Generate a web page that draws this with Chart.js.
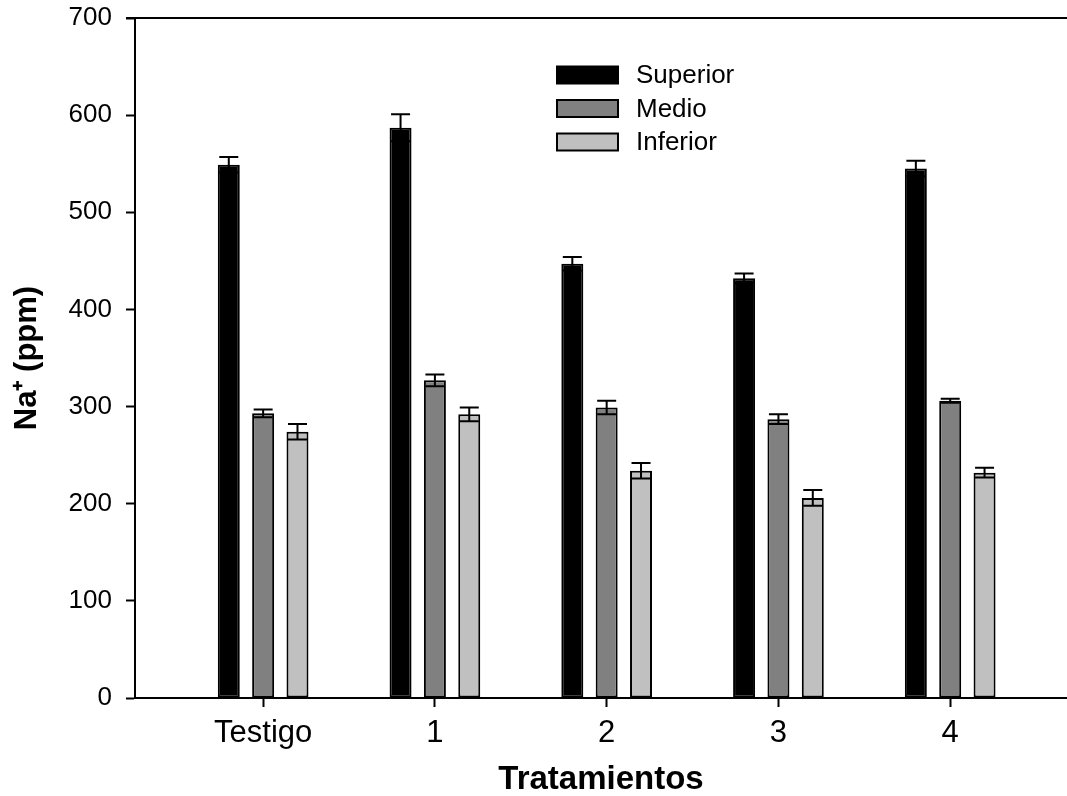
<!DOCTYPE html>
<html>
<head>
<meta charset="utf-8">
<script src="https://cdn.jsdelivr.net/npm/chart.js@4/dist/chart.umd.min.js"></script>
<style>
  html, body { margin: 0; padding: 0; background: #ffffff; }
  #wrap { width: 1067px; height: 796px; }
</style>
</head>
<body>
<div id="wrap"><canvas id="c" width="1067" height="796"></canvas></div>
<script>
const categories = ['Testigo', '1', '2', '3', '4'];
const seriesNames = ['Superior', 'Medio', 'Inferior'];
const superior = [549, 587, 447, 432, 545];
const medio = [293, 327, 299, 287, 306];
const inferior = [274, 292, 234, 206, 232];
const superiorErr = [8, 14, 7, 5, 8];
const medioErr = [4, 6, 7, 5, 2];
const inferiorErr = [8, 7, 8, 8, 5];
const yTicks = [0, 100, 200, 300, 400, 500, 600, 700];

const colors = ['#000000', '#808080', '#c0c0c0'];
const values = [superior, medio, inferior];
const errors = [superiorErr, medioErr, inferiorErr];

const FONT = "Arial, 'Liberation Sans', sans-serif";

const datasets = seriesNames.map((name, k) => ({
  label: name,
  data: values[k].map((v, i) => ({ x: i, y: v })),
  errs: errors[k],
  backgroundColor: colors[k],
  borderColor: '#000000',
  borderWidth: 2,
  borderSkipped: false,
  barPercentage: 0.64,
  categoryPercentage: 0.6
}));

const errorBarPlugin = {
  id: 'errorBars',
  afterDatasetsDraw(chart) {
    const ctx = chart.ctx;
    const ys = chart.scales.y;
    ctx.save();
    ctx.strokeStyle = '#000000';
    ctx.lineWidth = 2;
    chart.data.datasets.forEach((ds, di) => {
      const meta = chart.getDatasetMeta(di);
      meta.data.forEach((bar, i) => {
        const v = ds.data[i].y;
        const e = ds.errs[i];
        const x = bar.x;
        const yTop = ys.getPixelForValue(v + e);
        const yBot = ys.getPixelForValue(v - e);
        const half = 9.5;
        ctx.beginPath();
        ctx.moveTo(x, yTop); ctx.lineTo(x, yBot);
        ctx.moveTo(x - half, yTop); ctx.lineTo(x + half, yTop);
        ctx.moveTo(x - half, yBot); ctx.lineTo(x + half, yBot);
        ctx.stroke();
      });
    });
    ctx.restore();
  }
};

const framePlugin = {
  id: 'frame',
  afterDraw(chart) {
    const { ctx, chartArea } = chart;
    ctx.save();
    ctx.strokeStyle = '#000000';
    ctx.lineWidth = 2;
    ctx.beginPath();
    ctx.moveTo(chartArea.left - 9, chartArea.top);
    ctx.lineTo(chartArea.right, chartArea.top);
    ctx.stroke();
    ctx.restore();
  }
};

const legendPlugin = {
  id: 'boxLegend',
  afterDraw(chart) {
    const ctx = chart.ctx;
    ctx.save();
    ctx.font = '26px ' + FONT;
    ctx.textBaseline = 'middle';
    ctx.textAlign = 'left';
    chart.data.datasets.forEach((ds, k) => {
      const cy = 75 + k * 33.5;
      ctx.fillStyle = ds.backgroundColor;
      ctx.fillRect(557, cy - 8.5, 61, 17);
      ctx.strokeStyle = '#000000';
      ctx.lineWidth = 2;
      ctx.strokeRect(557, cy - 8.5, 61, 17);
      ctx.fillStyle = '#000000';
      ctx.fillText(ds.label, 636, cy + 1);
    });
    ctx.restore();
  }
};

new Chart(document.getElementById('c'), {
  type: 'bar',
  data: { datasets },
  plugins: [errorBarPlugin, framePlugin, legendPlugin],
  options: {
    responsive: false,
    animation: false,
    layout: { padding: { top: 18, right: 0, bottom: 0, left: 0 } },
    plugins: { legend: { display: false }, tooltip: { enabled: false } },
    scales: {
      x: {
        type: 'linear',
        min: -0.746,
        max: 4.68,
        offset: false,
        grid: { offset: false, drawOnChartArea: false, drawTicks: true, tickLength: 9, tickWidth: 2, tickColor: '#000000' },
        border: { display: true, color: '#000000', width: 2 },
        afterBuildTicks(scale) { scale.ticks = categories.map((_, i) => ({ value: i })); },
        afterFit(scale) { scale.height = 98; scale.paddingLeft = 0; scale.paddingRight = 0; },
        ticks: {
          autoSkip: false,
          maxRotation: 0,
          padding: 8,
          color: '#000000',
          font: { family: FONT, size: 31 },
          callback: (v) => categories[v] !== undefined ? categories[v] : ''
        },
        title: {
          display: true,
          text: 'Tratamientos',
          color: '#000000',
          font: { family: FONT, size: 33, weight: 'bold', lineHeight: 1 },
          padding: { top: 0, bottom: 0 }
        }
      },
      y: {
        min: 0,
        max: 700,
        grid: { drawOnChartArea: false, drawTicks: true, tickLength: 9, tickWidth: 2, tickColor: '#000000' },
        border: { display: true, color: '#000000', width: 2 },
        afterBuildTicks(scale) { scale.ticks = yTicks.map(v => ({ value: v })); },
        afterFit(scale) { scale.width = 135; scale.paddingTop = 0; scale.paddingBottom = 0; },
        ticks: {
          padding: 14,
          color: '#000000',
          font: { family: FONT, size: 26 }
        },
        title: {
          display: true,
          text: 'Na\u207A (ppm)',
          color: '#000000',
          font: { family: FONT, size: 31, weight: 'bold' },
          padding: { top: 9, bottom: 9 }
        }
      }
    }
  }
});
</script>
</body>
</html>
